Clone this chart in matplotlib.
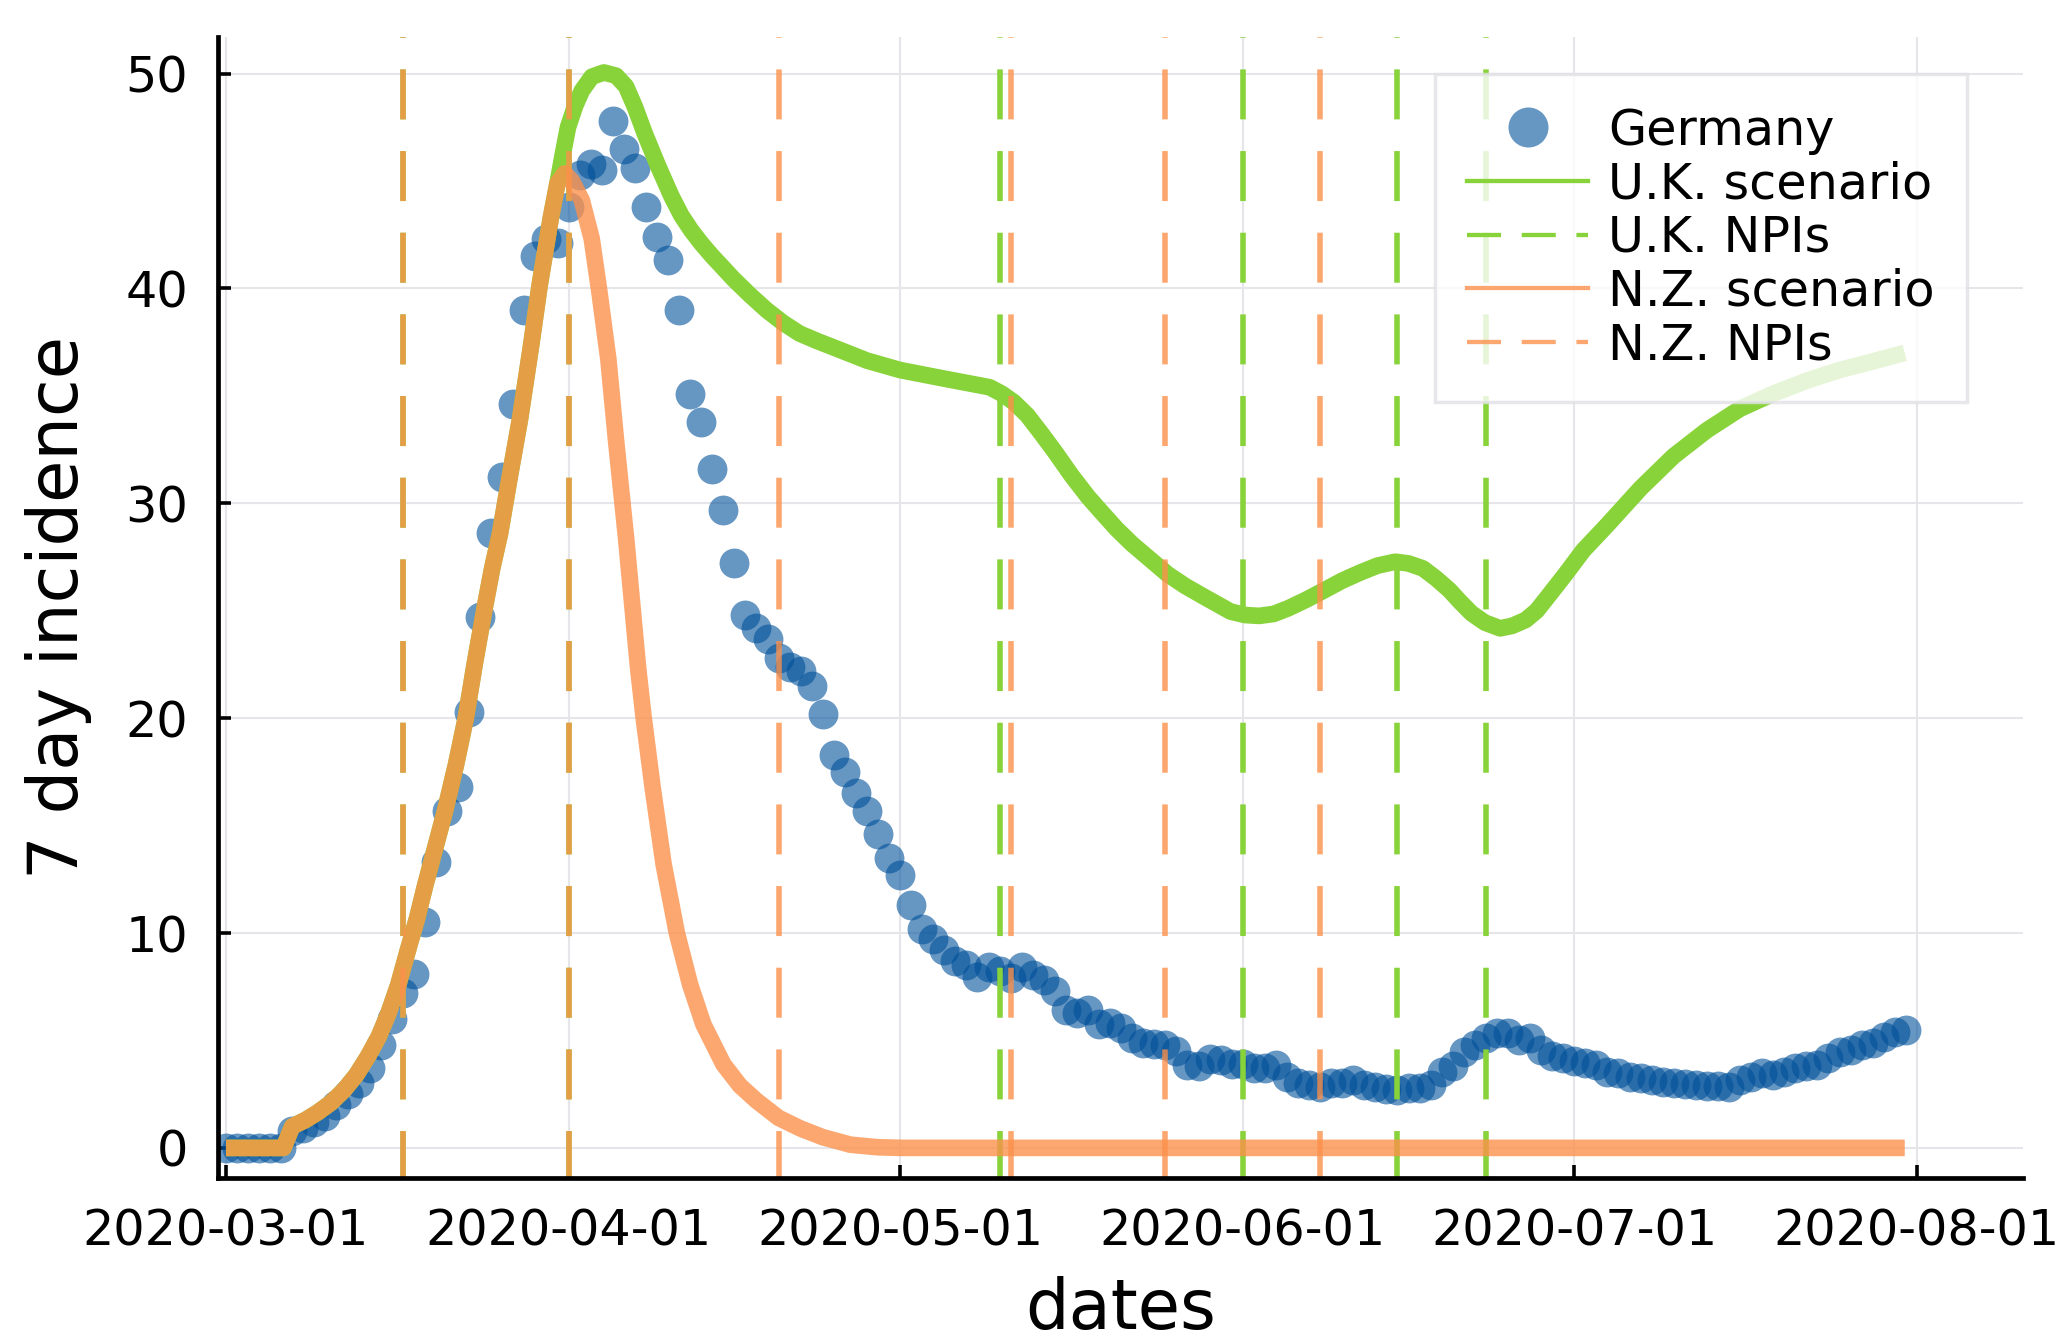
import numpy as np
import pandas as pd
import matplotlib
matplotlib.use("Agg")
import matplotlib.pyplot as plt
import matplotlib.dates as mdates
from matplotlib.lines import Line2D

plt.rcParams["font.family"] = ["DejaVu Sans"]
plt.rcParams["lines.scale_dashes"] = False

start = pd.Timestamp("2020-03-01")

# Germany, 7 day incidence, one value per day from 2020-03-01
germany = [
    0, 0, 0, 0, 0, 0, 0.8, 0.95, 1.2, 1.5,
    2.0, 2.5, 3.0, 3.7, 4.8, 6.0, 7.2, 8.1, 10.5, 13.3,
    15.7, 16.8, 20.3, 24.7, 28.6, 31.2, 34.6, 39.0, 41.5, 42.3,
    42.1, 43.8, 45.3, 45.8, 45.5, 47.8, 46.5, 45.6, 43.8, 42.4,
    41.3, 39.0, 35.1, 33.8, 31.6, 29.7, 27.2, 24.8, 24.2, 23.7,
    22.8, 22.4, 22.2, 21.5, 20.2, 18.3, 17.5, 16.5, 15.7, 14.6,
    13.5, 12.7, 11.3, 10.2, 9.7, 9.2, 8.7, 8.5, 7.95, 8.4,
    8.25, 7.9, 8.4, 8.05, 7.8, 7.3, 6.4, 6.3, 6.4, 5.75,
    5.8, 5.6, 5.1, 4.9, 4.85, 4.8, 4.5, 3.85, 3.8, 4.15,
    4.1, 3.9, 3.9, 3.7, 3.7, 3.85, 3.3, 3.0, 2.95, 2.85,
    3.0, 3.0, 3.16, 2.95, 2.85, 2.73, 2.7, 2.78, 2.78, 2.95,
    3.55, 3.81, 4.48, 4.79, 5.1, 5.33, 5.37, 5.04, 5.1, 4.56,
    4.3, 4.2, 4.05, 3.94, 3.85, 3.55, 3.47, 3.32, 3.24, 3.16,
    3.09, 3.01, 2.98, 2.93, 2.9, 2.89, 2.85, 3.16, 3.32, 3.47,
    3.4, 3.55, 3.7, 3.79, 3.87, 4.17, 4.48, 4.56, 4.79, 4.87,
    5.18, 5.41, 5.49,
]

# model scenarios (days since 2020-03-01, value)
# both scenarios share the rise up to the beginning of April
rise_days = [0, 5.2, 6.0, 7.2, 8.3, 9.5, 10.7, 11.8, 12.85, 13.8, 14.66, 15.6, 16.5, 17.3,
             18.0, 18.9, 19.8, 20.8, 21.7, 22.5, 23.4, 24.1, 24.8, 25.7, 26.6, 27.6, 28.4,
             29.4, 30.0]
rise_vals = [0, 0, 1.0, 1.3, 1.65, 2.1, 2.7, 3.4, 4.26, 5.15, 6.2, 7.6, 9.27, 10.7,
             12.16, 13.9, 15.64, 17.8, 20.0, 22.5, 25.1, 27.0, 28.6, 31.3, 33.9, 37.3, 40.2,
             43.3, 44.9]

uk_days = rise_days + [30.5, 30.95, 31.6, 32.2, 33.1, 34.2, 35.3, 36.2, 37.0, 37.9, 39.1, 40.3,
                       41.2, 42.1, 43.0, 44.0, 45.0, 45.9, 47.4, 48.9, 50.4, 51.9, 53.5, 55.0,
                       58.0, 61.0, 65.0, 69.1, 70.2, 71.3, 72.5, 73.7, 75.0, 76.5, 78.0, 79.2,
                       80.6, 82.0, 83.6, 85.2, 86.8, 88.5, 90.9, 92.2, 93.5, 94.8, 96.1, 97.7,
                       99.4, 101.0, 102.6, 104.2, 105.8, 107.0, 108.3, 109.5, 110.7, 111.7, 112.7,
                       113.9, 115.3, 116.4, 117.6, 118.6, 119.6, 121.2, 122.8, 125.0, 128.0, 131.0,
                       134.0, 137.0, 140.0, 143.0, 146.0, 149.0, 151.9]
uk_vals = rise_vals + [46.3, 47.5, 48.5, 49.2, 49.85, 50.05, 49.9, 49.4, 48.45, 47.2, 45.7, 44.3,
                       43.4, 42.7, 42.1, 41.5, 40.95, 40.45, 39.7, 39.0, 38.4, 37.9, 37.55, 37.25,
                       36.64, 36.2, 35.8, 35.4, 35.1, 34.7, 34.1, 33.3, 32.4, 31.3, 30.3, 29.6,
                       28.8, 28.1, 27.4, 26.7, 26.15, 25.65, 24.96, 24.8, 24.76, 24.85, 25.11, 25.5,
                       25.96, 26.4, 26.77, 27.1, 27.28, 27.2, 26.97, 26.5, 25.96, 25.4, 24.88,
                       24.45, 24.18, 24.3, 24.57, 25.0, 25.65, 26.7, 27.8, 29.0, 30.7, 32.2,
                       33.4, 34.4, 35.1, 35.7, 36.2, 36.6, 37.0]

nz_days = rise_days + [30.65, 31.3, 32.2, 33.1, 33.8, 34.6, 35.3, 36.2, 37.3, 37.8, 38.6, 39.6,
                       40.8, 42.0, 43.2, 45.0, 46.5, 48.0, 50.0, 52.0, 54.0, 56.5, 59.0, 61.3, 151.9]
nz_vals = rise_vals + [45.35, 45.0, 44.1, 42.3, 39.8, 36.7, 32.9, 28.4, 22.3, 20.0, 16.8, 13.2,
                       10.0, 7.6, 5.75, 3.9, 2.9, 2.2, 1.4, 0.9, 0.5, 0.15, 0.03, 0.0, 0.0]

# intervention dates, days since 2020-03-01
uk_npi_days = [16, 31, 70, 92, 106, 114]
nz_npi_days = [16, 31, 50, 71, 85, 99]

blue = "#00509a"
green = "#88d23a"
orange = "#fc904a"


def to_dates(days):
    return start + pd.to_timedelta(np.asarray(days, dtype=float), unit="D")


fig = plt.figure(figsize=(20.6, 13.3), dpi=100)
ax = fig.add_axes([218 / 2060, 1 - 1178 / 1330, (2023 - 218) / 2060, (1178 - 37) / 1330])

ax.plot(to_dates(range(len(germany))), germany, "o", ms=21.5, mew=0, color=blue, alpha=0.6)

ax.plot(to_dates(uk_days), uk_vals, color=green, lw=12, solid_capstyle="butt", solid_joinstyle="round")
for d in uk_npi_days:
    ax.axvline(to_dates([d])[0], color=green, lw=4, ls=(2.2, (36, 22.8)))

ax.plot(to_dates(nz_days), nz_vals, color=orange, alpha=0.79, lw=12, solid_capstyle="butt", solid_joinstyle="round")
for d in nz_npi_days:
    ax.axvline(to_dates([d])[0], color=orange, alpha=0.79, lw=4, ls=(2.2, (36, 22.8)))

ax.set_xlim(to_dates([-0.72])[0], to_dates([162.6])[0])
ax.set_ylim(-1.4, 51.7)
ax.set_yticks([0, 10, 20, 30, 40, 50])
ax.xaxis.set_major_locator(mdates.MonthLocator())
ax.xaxis.set_major_formatter(mdates.DateFormatter("%Y-%m-%d"))

ax.grid(True, color="#e6e6ea", lw=1.5)
ax.set_axisbelow(True)
for side in ["top", "right"]:
    ax.spines[side].set_visible(False)
for side in ["left", "bottom"]:
    ax.spines[side].set_linewidth(3.4)
ax.tick_params(direction="in", length=9.4, width=2.6, pad=21.5, labelsize=35.5)

ax.set_xlabel("dates", fontsize=49.5)
ax.xaxis.set_label_coords(0.5, -(1276 - 1178) / 1141)
ax.xaxis.label.set_verticalalignment("top")
ax.set_ylabel("7 day incidence", fontsize=49.5)
ax.yaxis.set_label_coords((59 - 218) / 1805, 0.5)
ax.yaxis.label.set_verticalalignment("center")

handles = [
    Line2D([], [], ls="", marker="o", ms=28.8, mew=0, color=blue, alpha=0.6),
    Line2D([], [], color=green, lw=3.1),
    Line2D([], [], color=green, lw=3.1, ls=(0, (24.5, 14.9))),
    Line2D([], [], color=orange, alpha=0.79, lw=3.1),
    Line2D([], [], color=orange, alpha=0.79, lw=3.1, ls=(0, (24.5, 14.9))),
]
labels = ["Germany", "U.K. scenario", "U.K. NPIs", "N.Z. scenario", "N.Z. NPIs"]
leg = ax.legend(handles, labels, loc="upper right", bbox_to_anchor=(1967 / 2060, 1 - 74 / 1330),
                bbox_transform=fig.transFigure, borderaxespad=0, fontsize=35.5,
                handlelength=2.45, handletextpad=0.4, labelspacing=0.115, borderpad=0.66,
                fancybox=False, framealpha=None)
leg.get_frame().set_facecolor((1, 1, 1, 0.88))
leg.get_frame().set_edgecolor("#e2e2e6")
leg.get_frame().set_linewidth(2.5)

fig.savefig("out.png", dpi=100)
